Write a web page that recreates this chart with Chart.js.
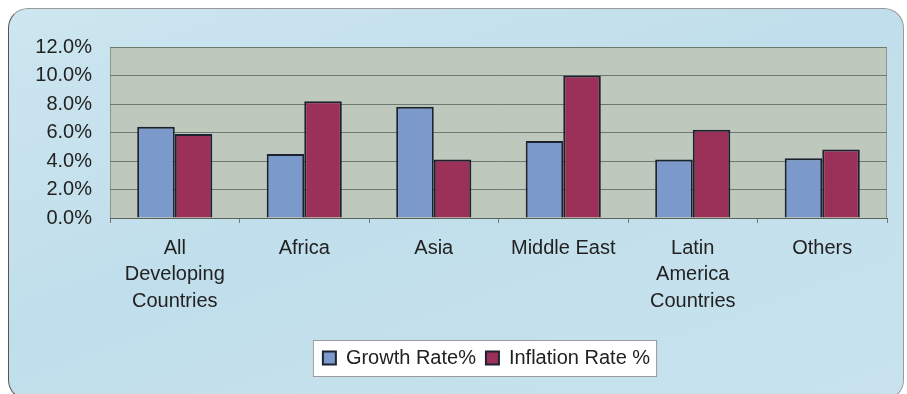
<!DOCTYPE html>
<html lang="en">
<head>
    <meta charset="UTF-8">
    <script src="https://cdn.jsdelivr.net/npm/chart.js@4.4.0/dist/chart.umd.min.js"></script>
    <title>Growth and Inflation Rates</title>
    <style>
        body { margin: 0; background: #ffffff; }
        #frame {
            position: absolute; left: 8px; top: 8px; width: 894px; height: 390px;
            border: 1px solid #9a9a9a; border-left-color: #555; border-bottom-color: #555;
            border-radius: 20px;
            background: linear-gradient(160deg, #cde6f0 0%, #c0deeb 45%, #c8e3ee 100%);
        }
        #wrap { position: absolute; left: 0; top: 0; width: 907px; height: 394px; }
    </style>
</head>
<body>
    <div id="frame"></div>
    <div id="wrap"><canvas id="chart" width="907" height="394"></canvas></div>

    <script>
        // data
        const regions = [
            ['All', 'Developing', 'Countries'],
            'Africa',
            'Asia',
            'Middle East',
            ['Latin', 'America', 'Countries'],
            'Others'
        ];
        const growthRate = [6.4, 4.5, 7.8, 5.4, 4.1, 4.2];
        const inflationRate = [5.9, 8.2, 4.1, 10.0, 6.2, 4.8];
        const yTicks = [0, 2, 4, 6, 8, 10, 12];

        // legend sits under the plot area rather than the canvas centre
        const legendShift = 39;

        // fills the plot area and puts a white box behind the legend
        const backdrop = {
            id: 'backdrop',
            afterLayout(chart) {
                const lg = chart.legend;
                lg.left += legendShift;
                lg.right += legendShift;
                lg.legendHitBoxes.forEach(b => { b.left += legendShift; });
            },
            beforeDraw(chart) {
                const ctx = chart.ctx;
                const a = chart.chartArea;
                ctx.save();
                ctx.fillStyle = '#bfc8bc';
                ctx.fillRect(a.left, a.top, a.right - a.left, a.bottom - a.top);
                ctx.strokeStyle = '#8d968b';
                ctx.lineWidth = 1;
                ctx.strokeRect(a.left + 0.5, a.top + 0.5, a.right - a.left - 1, a.bottom - a.top);

                const boxes = chart.legend.legendHitBoxes;
                if (boxes && boxes.length) {
                    const x0 = Math.min(...boxes.map(b => b.left)) - 10;
                    const x1 = Math.max(...boxes.map(b => b.left + b.width)) + 6;
                    const y0 = Math.min(...boxes.map(b => b.top)) - 8;
                    const y1 = Math.max(...boxes.map(b => b.top + b.height)) + 8;
                    ctx.fillStyle = '#ffffff';
                    ctx.fillRect(x0, y0, x1 - x0, y1 - y0);
                    ctx.strokeStyle = '#9a9a9a';
                    ctx.strokeRect(x0 + 0.5, y0 + 0.5, x1 - x0, y1 - y0);
                }
                ctx.restore();
            }
        };

        const ctx = document.getElementById('chart').getContext('2d');
        new Chart(ctx, {
            type: 'bar',
            data: {
                labels: regions,
                datasets: [{
                    label: 'Growth Rate%',
                    data: growthRate,
                    backgroundColor: '#7b9acb',
                    borderColor: '#1c2230',
                    borderWidth: 2,
                    borderSkipped: 'bottom'
                }, {
                    label: 'Inflation Rate %',
                    data: inflationRate,
                    backgroundColor: '#9b3059',
                    borderColor: '#1c2230',
                    borderWidth: 2,
                    borderSkipped: 'bottom'
                }]
            },
            options: {
                responsive: false,
                animation: false,
                layout: { padding: { left: 8, right: 20, top: 47, bottom: 16 } },
                categoryPercentage: 0.58,
                barPercentage: 1.0,
                scales: {
                    y: {
                        min: 0,
                        max: 12,
                        afterBuildTicks: axis => { axis.ticks = yTicks.map(v => ({ value: v })); },
                        afterFit: axis => { axis.width = 102; },
                        ticks: {
                            callback: v => v.toFixed(1) + '%',
                            color: '#222',
                            font: { family: 'Liberation Sans', size: 20 },
                            padding: 18
                        },
                        grid: { color: '#6f786d', lineWidth: 1, drawTicks: false },
                        border: { display: false }
                    },
                    x: {
                        afterFit: axis => { axis.height = 120; },
                        ticks: {
                            color: '#222',
                            font: { family: 'Liberation Sans', size: 20, lineHeight: 1.32 },
                            padding: 12,
                            maxRotation: 0
                        },
                        grid: { drawOnChartArea: false, color: '#6f786d', tickLength: 5 },
                        border: { color: '#5d655b', width: 1 }
                    }
                },
                plugins: {
                    legend: {
                        position: 'bottom',
                        labels: {
                            color: '#222',
                            font: { family: 'Liberation Sans', size: 20 },
                            boxWidth: 13,
                            boxHeight: 13,
                            padding: 10
                        }
                    },
                    tooltip: { enabled: false }
                }
            },
            plugins: [backdrop]
        });
    </script>
</body>
</html>
